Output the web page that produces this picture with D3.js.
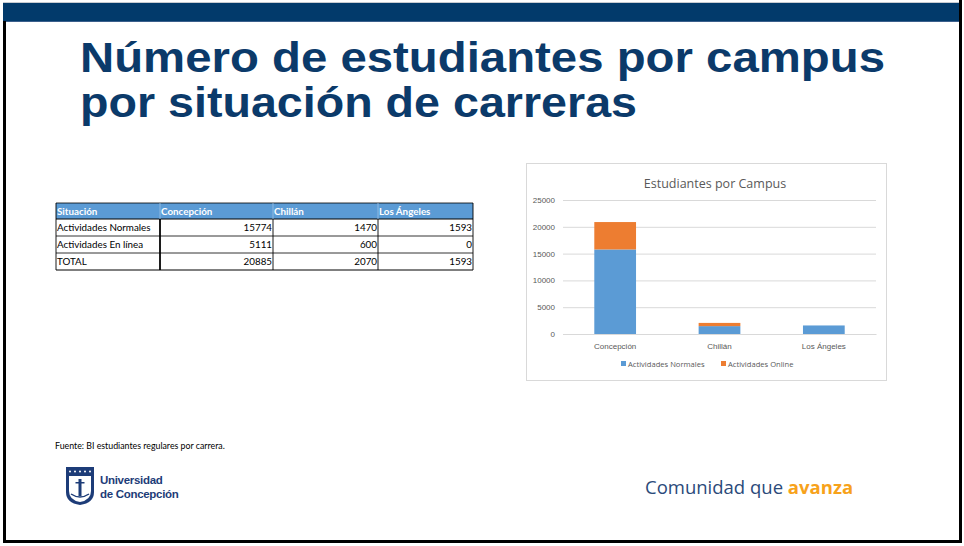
<!DOCTYPE html>
<html>
<head>
<meta charset="utf-8">
<script src="https://cdn.jsdelivr.net/npm/d3@7"></script>
<style>
  body { margin: 0; background: #fff; }
  svg { display: block; }
</style>
</head>
<body>
<div id="slide"></div>
<script>
// data
var campuses = ["Concepción", "Chillán", "Los Ángeles"];
var normales = [15774, 1470, 1593];
var online = [5111, 600, 0];
var totales = [20885, 2070, 1593];
var rowLabels = ["Actividades Normales", "Actividades En línea", "TOTAL"];
var seriesNames = ["Actividades Normales", "Actividades Online"];
var seriesColors = ["#5b9bd5", "#ed7d31"];
var yTicks = [0, 5000, 10000, 15000, 20000, 25000];

var W = 964, H = 546;
var svg = d3.select("#slide").append("svg").attr("width", W).attr("height", H);

// slide frame
svg.append("rect").attr("x", 0).attr("y", 0).attr("width", W).attr("height", H).attr("fill", "#fff");
svg.append("rect").attr("x", 3).attr("y", 2).attr("width", 958).attr("height", 1).attr("fill", "#c8ccd2");
svg.append("rect").attr("x", 3).attr("y", 3).attr("width", 957).attr("height", 18).attr("fill", "#023a6b");
svg.append("rect").attr("x", 3).attr("y", 21).attr("width", 957).attr("height", 1).attr("fill", "#3b5f8c");
svg.append("rect").attr("x", 3).attr("y", 21).attr("width", 3).attr("height", 522).attr("fill", "#000");
svg.append("rect").attr("x", 959).attr("y", 0).attr("width", 3).attr("height", 543).attr("fill", "#000");
svg.append("rect").attr("x", 3).attr("y", 540).attr("width", 959).attr("height", 3).attr("fill", "#000");

// title (condensed bold look)
var title = svg.append("g").attr("font-family", "Liberation Sans, Arial, sans-serif")
  .attr("font-weight", "bold").attr("font-size", 42).attr("fill", "#0b3a6a");
title.append("text").attr("x", 80).attr("y", 72)
  .attr("textLength", 805).attr("lengthAdjust", "spacingAndGlyphs").text("Número de estudiantes por campus");
title.append("text").attr("x", 80).attr("y", 117)
  .attr("textLength", 557).attr("lengthAdjust", "spacingAndGlyphs").text("por situación de carreras");

// table
var colX = [56, 160, 273, 378, 473];
var rowY = [203, 219, 236, 253, 270];
var tbl = svg.append("g").attr("font-family", "Lato, Carlito, sans-serif").attr("font-size", 9.8);
tbl.append("rect").attr("x", colX[0]).attr("y", rowY[0]).attr("width", colX[4] - colX[0])
  .attr("height", rowY[1] - rowY[0]).attr("fill", "#5b9bd5");
var header = ["Situación"].concat(campuses);
header.forEach(function(h, i) {
  tbl.append("text").attr("x", colX[i] + 1).attr("y", rowY[0] + 12)
    .attr("fill", "#fff").attr("font-weight", "bold").text(h);
});
var tableRows = [normales, online, totales];
tableRows.forEach(function(vals, r) {
  tbl.append("text").attr("x", colX[0] + 1).attr("y", rowY[r + 1] + 12)
    .attr("fill", "#000").text(rowLabels[r]);
  vals.forEach(function(v, c) {
    tbl.append("text").attr("x", colX[c + 2] - 1).attr("y", rowY[r + 1] + 12)
      .attr("text-anchor", "end").attr("fill", "#000").text(v);
  });
});
// table lines
rowY.forEach(function(y, i) {
  if (i == 0) return;
  tbl.append("line").attr("x1", colX[0]).attr("x2", colX[4]).attr("y1", y).attr("y2", y)
    .attr("stroke", "#000").attr("stroke-width", i == 1 || i == 4 ? 1 : 0.8);
});
tbl.append("line").attr("x1", colX[0]).attr("x2", colX[4]).attr("y1", rowY[0]).attr("y2", rowY[0])
  .attr("stroke", "#000").attr("stroke-width", 0.8);
colX.forEach(function(x, i) {
  tbl.append("line").attr("x1", x).attr("x2", x).attr("y1", i == 0 || i == 4 ? rowY[0] : rowY[1]).attr("y2", rowY[4])
    .attr("stroke", "#000").attr("stroke-width", 0.9);
});
tbl.append("line").attr("x1", colX[1]).attr("x2", colX[1]).attr("y1", rowY[1]).attr("y2", rowY[4])
  .attr("stroke", "#000").attr("stroke-width", 1.6);
[1, 2, 3].forEach(function(i) {
  tbl.append("line").attr("x1", colX[i]).attr("x2", colX[i]).attr("y1", rowY[0]).attr("y2", rowY[1])
    .attr("stroke", "#9dc3e6").attr("stroke-width", 0.8);
});

// chart
var chart = svg.append("g").attr("font-family", "Open Sans, Noto Sans, sans-serif");
chart.append("rect").attr("x", 526.5).attr("y", 163.5).attr("width", 360).attr("height", 217)
  .attr("fill", "#fff").attr("stroke", "#d9d9d9");
chart.append("text").attr("x", 715).attr("y", 188).attr("text-anchor", "middle")
  .attr("font-size", 12.5).attr("fill", "#595959").text("Estudiantes por Campus");

var x = d3.scaleBand().domain(campuses).range([563, 876]).paddingInner(0.6).paddingOuter(0.3);
var y = d3.scaleLinear().domain([0, 25000]).range([334, 200]);

var yAxis = d3.axisLeft(y).tickValues(yTicks).tickSize(-(876 - 563)).tickFormat(d3.format("d"));
var gy = chart.append("g").attr("transform", "translate(563,0)").call(yAxis);
gy.select(".domain").remove();
gy.selectAll(".tick line").attr("stroke", "#d9d9d9");
gy.selectAll(".tick text").attr("x", -8).attr("fill", "#595959").attr("font-size", 8);

var xAxis = d3.axisBottom(x).tickSize(0);
var gx = chart.append("g").attr("transform", "translate(0,334)").call(xAxis);
gx.select(".domain").attr("stroke", "#d9d9d9");
gx.selectAll(".tick text").attr("dy", "1.55em").attr("fill", "#595959").attr("font-size", 8);

var stackData = campuses.map(function(c, i) { return { campus: c, a: normales[i], b: online[i] }; });
var stacked = d3.stack().keys(["a", "b"])(stackData);
chart.selectAll("g.series").data(stacked).enter().append("g").attr("class", "series")
  .attr("fill", function(d, i) { return seriesColors[i]; })
  .selectAll("rect").data(function(d) { return d; }).enter().append("rect")
  .attr("x", function(d) { return x(d.data.campus); })
  .attr("width", x.bandwidth())
  .attr("y", function(d) { return y(d[1]); })
  .attr("height", function(d) { return y(d[0]) - y(d[1]); });

// legend
var legX = [621, 721];
seriesNames.forEach(function(n, i) {
  chart.append("rect").attr("x", legX[i]).attr("y", 361).attr("width", 5).attr("height", 5).attr("fill", seriesColors[i]);
  chart.append("text").attr("x", legX[i] + 7).attr("y", 367).attr("font-size", 7.6)
    .attr("fill", "#595959").text(n);
});

// footer source
svg.append("text").attr("x", 55).attr("y", 449).attr("font-family", "Lato, sans-serif")
  .attr("font-size", 8.8).attr("fill", "#000").text("Fuente: BI estudiantes regulares por carrera.");

// university logo (shield + text)
var logo = svg.append("g");
logo.append("path").attr("d", "M66,467 L94,467 L94,492 Q94,503 80,505 Q66,503 66,492 Z").attr("fill", "#1d3c78");
logo.append("path").attr("d", "M69,476 L91,476 L91,491 Q91,500 80,502 Q69,500 69,491 Z").attr("fill", "#fff");
d3.range(5).forEach(function(i) {
  logo.append("circle").attr("cx", 70 + i * 5).attr("cy", 471.5).attr("r", 1).attr("fill", "#fff");
});
logo.append("rect").attr("x", 78.5).attr("y", 479).attr("width", 3).attr("height", 17).attr("fill", "#1d3c78");
logo.append("rect").attr("x", 75.5).attr("y", 482).attr("width", 9).attr("height", 1.5).attr("fill", "#1d3c78");
logo.append("path").attr("d", "M71,494 Q80,500 89,494").attr("stroke", "#1d3c78").attr("stroke-width", 1.5).attr("fill", "none");
logo.append("text").attr("x", 100).attr("y", 484).attr("font-family", "Liberation Sans, Arial, sans-serif")
  .attr("font-weight", "bold").attr("font-size", 11.5).attr("fill", "#1d3c78").attr("letter-spacing", -0.3).text("Universidad");
logo.append("text").attr("x", 100).attr("y", 498).attr("font-family", "Liberation Sans, Arial, sans-serif")
  .attr("font-weight", "bold").attr("font-size", 11.5).attr("fill", "#1d3c78").attr("letter-spacing", -0.3).text("de Concepción");

// tagline
var tag = svg.append("text").attr("x", 645).attr("y", 494).attr("font-family", "Open Sans, sans-serif").attr("font-size", 18.5);
tag.append("tspan").attr("fill", "#2b4a7a").text("Comunidad que ");
tag.append("tspan").attr("fill", "#f7a21b").attr("font-weight", "bold").text("avanza");
</script>
</body>
</html>
